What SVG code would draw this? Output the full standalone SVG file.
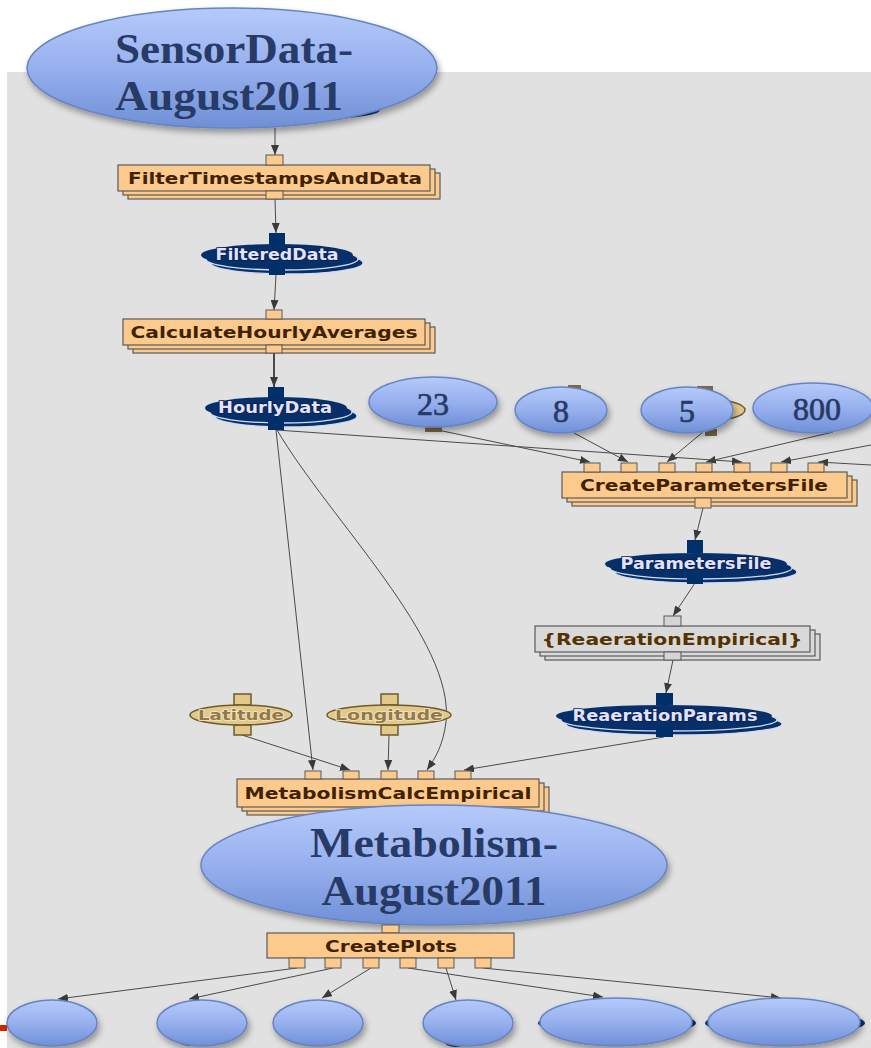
<svg xmlns="http://www.w3.org/2000/svg" width="871" height="1048" viewBox="0 0 871 1048">
<defs>
<style>
.edge{fill:none;stroke:#4a4a4a;stroke-width:1;marker-end:url(#ah)}
.box{fill:#fdca8d;stroke:#5a5a5a;stroke-width:1.2}
.gbox{fill:#d9d9d9;stroke:#5a5a5a;stroke-width:1.2}
.port{fill:#fdca8d;stroke:#5a5a5a;stroke-width:1}
.gport{fill:#d4d4d4;stroke:#5a5a5a;stroke-width:1}
.btxt{font-family:"DejaVu Sans","Liberation Sans",sans-serif;font-weight:bold;font-size:16.5px;fill:#3f2200;text-anchor:middle}
.dk{fill:#07306b}
.dkst{fill:#07306b;stroke:#d2dcf0;stroke-width:1.3}
.dport{fill:#00306a}
.dtxt{font-family:"DejaVu Sans","Liberation Sans",sans-serif;font-weight:bold;font-size:15px;fill:#e2e2ff;text-anchor:middle;stroke:#0a1f4a;stroke-width:1.5;paint-order:stroke}
.tan{fill:#e2c98a;stroke:#6d5b2b;stroke-width:1.5}
.ttxt{font-family:"DejaVu Sans","Liberation Sans",sans-serif;font-weight:bold;font-size:14.5px;fill:#93794a;text-anchor:middle;stroke:#f2e6c4;stroke-width:1.5;paint-order:stroke}
.blue{fill:url(#bg);stroke:#6783c2;stroke-width:1.5;filter:url(#sh)}
.big{font-family:"Liberation Serif","DejaVu Serif",serif;font-weight:bold;font-size:42px;fill:#283a66;text-anchor:middle}
.num{font-family:"Liberation Serif","DejaVu Serif",serif;font-size:32px;fill:#283a66;stroke:#283a66;stroke-width:0.7;text-anchor:middle}
</style>
<linearGradient id="bg" x1="0" y1="0" x2="0" y2="1">
<stop offset="0" stop-color="#b5cafb"/>
<stop offset="0.5" stop-color="#97b0ee"/>
<stop offset="1" stop-color="#6f8fd6"/>
</linearGradient>
<filter id="sh" x="-20%" y="-20%" width="140%" height="160%">
<feDropShadow dx="2" dy="4" stdDeviation="3" flood-color="#000" flood-opacity="0.35"/>
</filter>
<marker id="ah" viewBox="0 0 10 8" refX="10" refY="4" markerWidth="10" markerHeight="8" markerUnits="userSpaceOnUse" orient="auto">
<path d="M0,0 L10,4 L0,8 z" fill="#3a3a3a"/>
</marker>
</defs>

<rect x="0" y="0" width="871" height="1048" fill="#ffffff"/>
<rect x="7" y="72" width="864" height="976" fill="#e1e1e1"/>
<rect x="0" y="1025" width="7" height="6" fill="#cc2a00"/>

<g id="connectors">
<line class="edge" x1="275" y1="128" x2="275" y2="155"/>
<line class="edge" x1="275" y1="199" x2="276" y2="233"/>
<line class="edge" x1="276" y1="275" x2="274" y2="310"/>
<line class="edge" x1="274" y1="353" x2="274" y2="387" style="stroke-width:2"/>
<line class="edge" x1="433" y1="429" x2="590" y2="462"/>
<line class="edge" x1="574" y1="433" x2="628" y2="462"/>
<line class="edge" x1="703" y1="432" x2="667" y2="462"/>
<line class="edge" x1="833" y1="432" x2="706" y2="462"/>
<line class="edge" x1="276" y1="430" x2="742" y2="462"/>
<line class="edge" x1="871" y1="445" x2="781" y2="462"/>
<line class="edge" x1="871" y1="465" x2="818" y2="462"/>
<line class="edge" x1="703" y1="508" x2="695" y2="540"/>
<line class="edge" x1="695" y1="583" x2="673" y2="616"/>
<line class="edge" x1="673" y1="660" x2="666" y2="693"/>
<line class="edge" x1="276" y1="430" x2="313" y2="770"/>
<line class="edge" x1="242" y1="735" x2="350" y2="770"/>
<line class="edge" x1="389" y1="735" x2="388" y2="770"/>
<path class="edge" d="M277,430 C330,520 455,640 446,722 C443,745 436,757 427,770"/>
<line class="edge" x1="664" y1="737" x2="464" y2="770"/>
<line class="edge" x1="297" y1="968" x2="58" y2="999"/>
<line class="edge" x1="333" y1="968" x2="189" y2="999"/>
<line class="edge" x1="371" y1="968" x2="322" y2="998"/>
<line class="edge" x1="408" y1="968" x2="603" y2="997"/>
<line class="edge" x1="446" y1="968" x2="456" y2="1000"/>
<line class="edge" x1="483" y1="968" x2="781" y2="998"/>
</g>

<g id="SensorData">
<ellipse class="dk" cx="300" cy="110" rx="80" ry="10"/>
<ellipse class="blue" cx="232" cy="68" rx="205" ry="60"/>
<text class="big" x="234" y="63" textLength="238" lengthAdjust="spacingAndGlyphs">SensorData-</text>
<text class="big" x="229" y="110" textLength="228" lengthAdjust="spacingAndGlyphs">August2011</text>
</g>

<g id="FilterTimestampsAndData">
<rect class="box" x="128" y="173" width="312" height="26"/>
<rect class="box" x="123" y="169" width="312" height="26"/>
<rect class="box" x="118" y="165" width="312" height="26"/>
<rect class="port" x="266" y="155" width="17" height="10"/>
<rect class="port" x="266" y="191" width="17" height="8"/>
<text class="btxt" x="275" y="184" textLength="294" lengthAdjust="spacingAndGlyphs">FilterTimestampsAndData</text>
</g>

<g id="FilteredData">
<ellipse class="dkst" cx="287" cy="263" rx="76" ry="11"/>
<ellipse class="dkst" cx="282" cy="259" rx="76" ry="11"/>
<ellipse class="dk" cx="277" cy="255" rx="76" ry="11"/>
<rect class="dport" x="269" y="233" width="16" height="13"/>
<rect class="dport" x="269" y="263" width="16" height="12"/>
<text class="dtxt" x="277" y="260" textLength="123" lengthAdjust="spacingAndGlyphs">FilteredData</text>
</g>

<g id="CalculateHourlyAverages">
<rect class="box" x="133" y="327" width="302" height="26"/>
<rect class="box" x="128" y="323" width="302" height="26"/>
<rect class="box" x="123" y="319" width="302" height="26"/>
<rect class="port" x="266" y="310" width="16" height="9"/>
<rect class="port" x="266" y="345" width="16" height="8"/>
<text class="btxt" x="274" y="338" textLength="287" lengthAdjust="spacingAndGlyphs">CalculateHourlyAverages</text>
</g>

<g id="HourlyData">
<ellipse class="dkst" cx="286" cy="416" rx="71" ry="11"/>
<ellipse class="dkst" cx="281" cy="412" rx="71" ry="11"/>
<ellipse class="dk" cx="276" cy="408" rx="71" ry="11"/>
<rect class="dport" x="268" y="387" width="16" height="12"/>
<rect class="dport" x="268" y="418" width="16" height="12"/>
<text class="dtxt" x="275" y="413" textLength="114" lengthAdjust="spacingAndGlyphs">HourlyData</text>
</g>

<g id="param23">
<rect x="425" y="424" width="17" height="8" fill="#7a6a45"/>
<ellipse class="blue" cx="433" cy="402" rx="64" ry="25"/>
<text class="num" x="433" y="415">23</text>
</g>

<g id="param8">
<rect x="568" y="385" width="13" height="8" fill="#7a6a45"/>
<ellipse class="blue" cx="561" cy="410" rx="46" ry="23"/>
<text class="num" x="561" y="422">8</text>
</g>

<g id="param5">
<ellipse class="tan" cx="705" cy="410" rx="40" ry="11"/>
<rect x="697" y="386" width="16" height="7" fill="#7a6a45"/>
<rect x="705" y="429" width="12" height="7" fill="#7a6a45"/>
<ellipse class="blue" cx="687" cy="410" rx="46" ry="23"/>
<text class="num" x="687" y="422">5</text>
</g>

<g id="param800">
<ellipse class="blue" cx="813" cy="408" rx="60" ry="25"/>
<text class="num" x="817" y="420">800</text>
</g>

<g id="CreateParametersFile">
<rect class="box" x="572" y="480" width="285" height="26"/>
<rect class="box" x="567" y="476" width="285" height="26"/>
<rect class="box" x="562" y="472" width="285" height="26"/>
<rect class="port" x="584" y="463" width="16" height="9"/>
<rect class="port" x="621" y="463" width="16" height="9"/>
<rect class="port" x="659" y="463" width="16" height="9"/>
<rect class="port" x="696" y="463" width="16" height="9"/>
<rect class="port" x="734" y="463" width="16" height="9"/>
<rect class="port" x="771" y="463" width="16" height="9"/>
<rect class="port" x="808" y="463" width="16" height="9"/>
<rect class="port" x="695" y="498" width="16" height="10"/>
<text class="btxt" x="704" y="491" textLength="248" lengthAdjust="spacingAndGlyphs">CreateParametersFile</text>
</g>

<g id="ParametersFile">
<ellipse class="dkst" cx="706" cy="572" rx="91" ry="11"/>
<ellipse class="dkst" cx="701" cy="568" rx="91" ry="11"/>
<ellipse class="dk" cx="696" cy="564" rx="91" ry="11"/>
<rect class="dport" x="687" y="540" width="16" height="13"/>
<rect class="dport" x="687" y="573" width="16" height="11"/>
<text class="dtxt" x="696" y="569" textLength="151" lengthAdjust="spacingAndGlyphs">ParametersFile</text>
</g>

<g id="ReaerationEmpirical">
<rect class="gbox" x="545" y="634" width="275" height="26"/>
<rect class="gbox" x="540" y="630" width="275" height="26"/>
<rect class="gbox" x="535" y="626" width="275" height="26"/>
<rect class="gport" x="664" y="616" width="17" height="10"/>
<rect class="gport" x="664" y="652" width="17" height="8"/>
<text class="btxt" x="672" y="645" textLength="261" lengthAdjust="spacingAndGlyphs" style="fill:#553300">{ReaerationEmpirical}</text>
</g>

<g id="ReaerationParams">
<ellipse class="dkst" cx="674" cy="724" rx="108" ry="11"/>
<ellipse class="dkst" cx="669" cy="720" rx="108" ry="11"/>
<ellipse class="dk" cx="664" cy="716" rx="108" ry="11"/>
<rect class="dport" x="656" y="693" width="17" height="12"/>
<rect class="dport" x="656" y="726" width="17" height="11"/>
<text class="dtxt" x="665" y="721" textLength="185" lengthAdjust="spacingAndGlyphs">ReaerationParams</text>
</g>

<g id="Latitude">
<rect class="tan" x="234" y="694" width="17" height="11"/>
<rect class="tan" x="234" y="725" width="17" height="10"/>
<ellipse class="tan" cx="241" cy="715" rx="51" ry="10"/>
<text class="ttxt" x="241" y="720" textLength="86" lengthAdjust="spacingAndGlyphs">Latitude</text>
</g>

<g id="Longitude">
<rect class="tan" x="381" y="694" width="17" height="11"/>
<rect class="tan" x="381" y="725" width="17" height="10"/>
<ellipse class="tan" cx="389" cy="715" rx="62" ry="10"/>
<text class="ttxt" x="389" y="720" textLength="108" lengthAdjust="spacingAndGlyphs">Longitude</text>
</g>

<g id="MetabolismCalcEmpirical">
<rect class="box" x="247" y="787" width="302" height="28"/>
<rect class="box" x="242" y="783" width="302" height="28"/>
<rect class="box" x="237" y="779" width="302" height="28"/>
<rect class="port" x="305" y="771" width="16" height="8"/>
<rect class="port" x="343" y="771" width="16" height="8"/>
<rect class="port" x="381" y="771" width="16" height="8"/>
<rect class="port" x="418" y="771" width="16" height="8"/>
<rect class="port" x="455" y="771" width="16" height="8"/>
<text class="btxt" x="388" y="799" textLength="287" lengthAdjust="spacingAndGlyphs">MetabolismCalcEmpirical</text>
</g>

<g id="Metabolism">
<ellipse class="blue" cx="434" cy="865" rx="233" ry="60"/>
<text class="big" x="434" y="857" textLength="248" lengthAdjust="spacingAndGlyphs">Metabolism-</text>
<text class="big" x="434" y="905" textLength="225" lengthAdjust="spacingAndGlyphs">August2011</text>
</g>

<g id="CreatePlots">
<rect class="port" x="382" y="925" width="17" height="8"/>
<rect class="box" x="267" y="933" width="247" height="25"/>
<rect class="port" x="289" y="958" width="16" height="10"/>
<rect class="port" x="325" y="958" width="16" height="10"/>
<rect class="port" x="363" y="958" width="16" height="10"/>
<rect class="port" x="400" y="958" width="16" height="10"/>
<rect class="port" x="438" y="958" width="16" height="10"/>
<rect class="port" x="475" y="958" width="16" height="10"/>
<text class="btxt" x="391" y="952" textLength="132" lengthAdjust="spacingAndGlyphs">CreatePlots</text>
</g>

<g id="out1"><ellipse class="blue" cx="52" cy="1023" rx="45" ry="23"/></g>
<g id="out2"><ellipse class="dk" cx="190" cy="1040" rx="12" ry="6"/><ellipse class="blue" cx="202" cy="1023" rx="45" ry="23"/></g>
<g id="out3"><ellipse class="blue" cx="318" cy="1023" rx="45" ry="23"/></g>
<g id="out4"><ellipse class="dk" cx="456" cy="1041" rx="12" ry="6"/><ellipse class="blue" cx="468" cy="1023" rx="45" ry="23"/></g>
<g id="out5"><ellipse class="dk" cx="617" cy="1023" rx="79" ry="12"/><ellipse class="blue" cx="616" cy="1022" rx="76" ry="24"/></g>
<g id="out6"><ellipse class="dk" cx="785" cy="1023" rx="80" ry="12"/><ellipse class="blue" cx="784" cy="1022" rx="76" ry="24"/></g>
</svg>
